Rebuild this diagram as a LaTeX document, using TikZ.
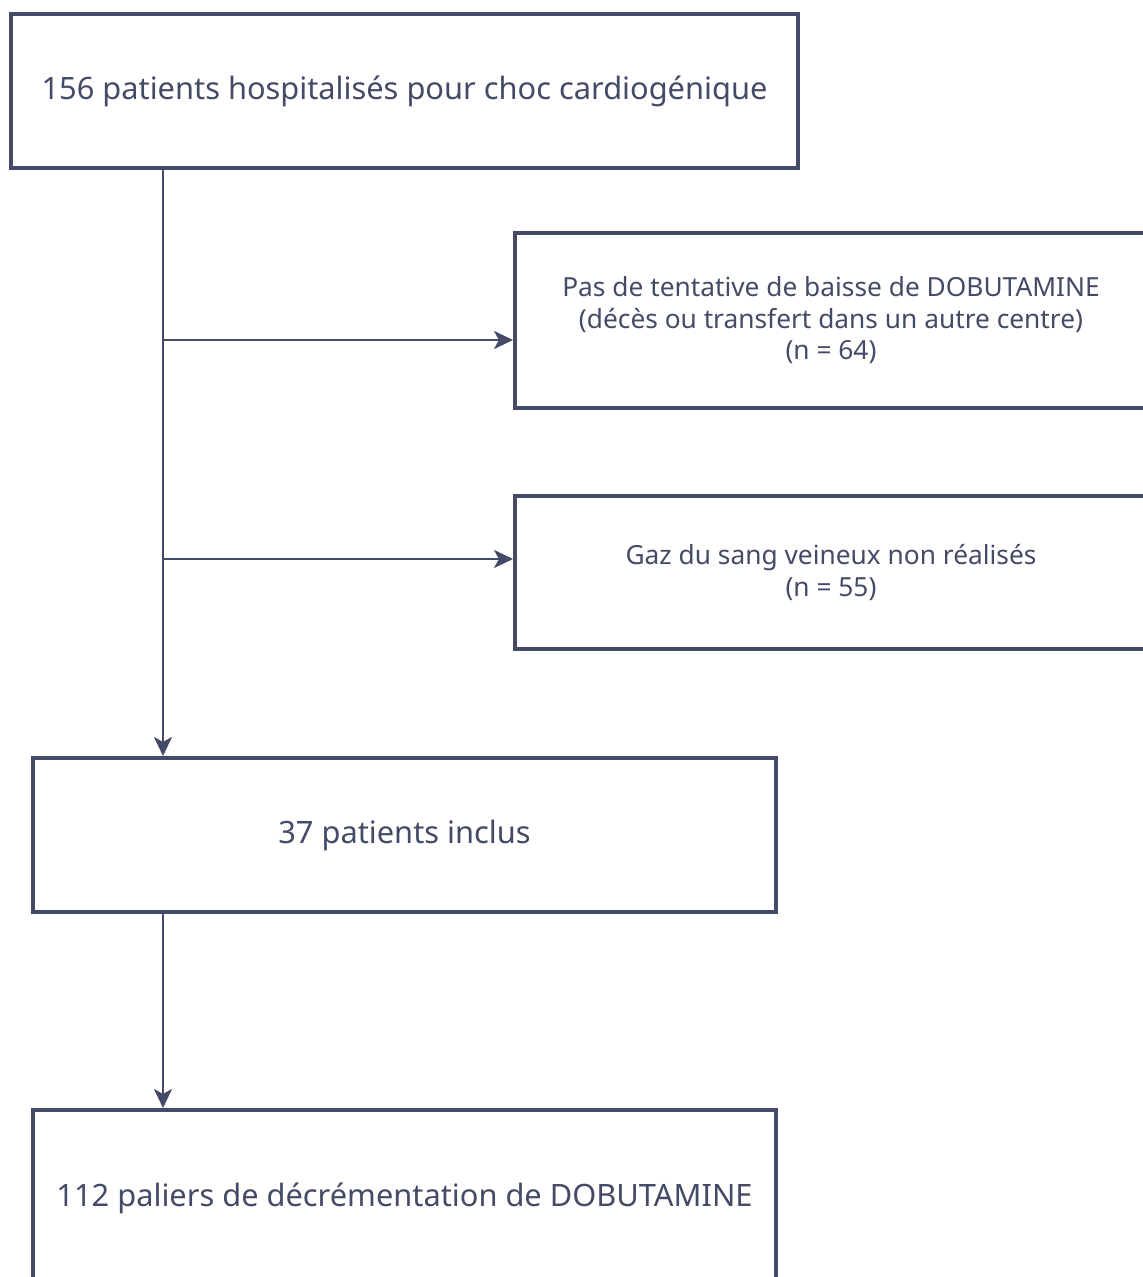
\documentclass[tikz,border=0pt]{standalone}
\usepackage{fontspec}
\setmainfont{Noto Sans}
\usetikzlibrary{arrows.meta}
\definecolor{ink}{HTML}{454A66}
\tikzset{
  box/.style={draw=ink, line width=4pt, fill=white, text=ink, align=center, inner sep=0pt},
  bigtxt/.style={font=\fontsize{30.8}{40}\selectfont},
  smalltxt/.style={font=\fontsize{26.3}{31.5}\selectfont},
  conn/.style={draw=ink, line width=2.5pt},
  arr/.style={conn, -{Stealth[length=19pt, width=18pt, inset=5pt]}}
}
\begin{document}
\begin{tikzpicture}[x=1pt, y=-1pt]
\useasboundingbox (0,0) rectangle (1143,1277);
\clip (0,0) rectangle (1143,1277);
\node[box, bigtxt, minimum width=787pt, minimum height=154pt] (a) at (404.5,91) {156 patients hospitalisés pour choc cardiogénique};
\node[box, smalltxt, minimum width=632pt, minimum height=175pt] (b) at (831,320.5) {Pas de tentative de baisse de DOBUTAMINE\\(décès ou transfert dans un autre centre)\\(n = 64)};
\node[box, smalltxt, minimum width=632pt, minimum height=153pt] (c) at (831,572.5) {Gaz du sang veineux non réalisés\\(n = 55)};
\node[box, bigtxt, minimum width=743pt, minimum height=154pt] (d) at (404.5,835) {37 patients inclus};
\node[box, bigtxt, minimum width=743pt, minimum height=176pt] (e) at (404.5,1198) {112 paliers de décrémentation de DOBUTAMINE};
\coordinate (j1) at (163,340);
\coordinate (j2) at (163,559);
\draw[arr] (a.south -| j1) -- (d.north -| j1);
\draw[arr] (j1) -- (j1 -| b.west);
\draw[arr] (j2) -- (j2 -| c.west);
\draw[arr] (d.south -| j1) -- (e.north -| j1);
\end{tikzpicture}
\end{document}
